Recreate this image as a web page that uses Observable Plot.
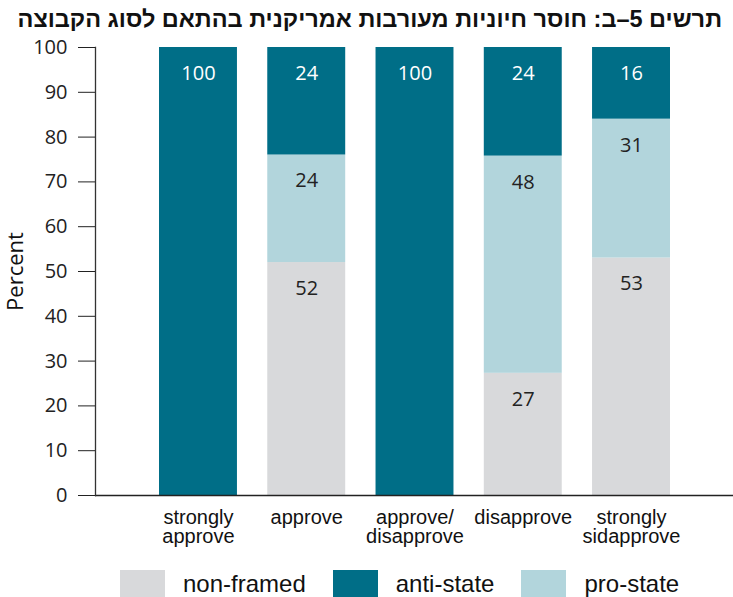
<!DOCTYPE html>
<html><head><meta charset="utf-8">
<script src="https://cdn.jsdelivr.net/npm/d3@7"></script>
<script src="https://cdn.jsdelivr.net/npm/@observablehq/plot@0.6"></script>
<style>
body{margin:0;background:#fff;}
#title{direction:rtl;font-family:"Liberation Sans",Arial,sans-serif;font-weight:bold;font-size:23.5px;height:28px;line-height:38px;padding-right:11px;white-space:nowrap;color:#111;width:722px;}
#chart svg{display:block;overflow:visible;}
.lg-swatches{margin-left:120px !important;margin-top:2px !important;margin-bottom:0 !important;font-family:"Liberation Sans",Arial,sans-serif !important;font-size:24px !important;color:#111;}
.lg-swatch{margin-right:27px !important;}
.lg-swatch > svg{margin-right:18px !important;}
</style></head><body>
<div id="title">תרשים 5–ב: חוסר חיוניות מעורבות אמריקנית בהתאם לסוג הקבוצה</div>
<div id="chart"></div>
<script>
const categories = ["strongly approve","approve","approve/disapprove","disapprove","strongly sidapprove"];
const categoryLabels = ["strongly\napprove","approve","approve/\ndisapprove","disapprove","strongly\nsidapprove"];
const groups = ["non-framed","anti-state","pro-state"];
const stackOrder = ["non-framed","pro-state","anti-state"];
const nonFramed = [null,52,null,27,53];
const proState  = [null,24,null,48,31];
const antiState = [100,24,100,24,16];
const colors = ["#d8d9db","#006e87","#b2d5dc"];
const yTicks = [0,10,20,30,40,50,60,70,80,90,100];
const yLabel = "Percent";

const series = {"non-framed": nonFramed, "pro-state": proState, "anti-state": antiState};
const data = [];
categories.forEach((c, i) => {
  stackOrder.forEach(g => {
    const v = series[g][i];
    if (v != null) data.push({category: c, group: g, value: v});
  });
});
const labelMap = Object.fromEntries(categories.map((c, i) => [c, categoryLabels[i]]));

const stackOpts = {x: "category", y: "value", z: "group", order: stackOrder, offset: "normalize"};

const chart = Plot.plot({
  width: 733,
  height: 537,
  marginTop: 19,
  marginBottom: 70,
  marginLeft: 95,
  marginRight: 0,
  x: {domain: categories, range: [159, 670], paddingInner: 0.28, paddingOuter: 0, round: false},
  y: {domain: [0, 100], percent: true},
  color: {domain: groups, range: colors},
  marks: [
    Plot.barY(data, Plot.stackY({...stackOpts, fill: "group"})),
    Plot.text(data, Plot.stackY2({...stackOpts, text: d => d.group === "anti-state" ? String(d.value) : null,
      fill: "white", dy: 26, fontFamily: "'Open Sans'", fontSize: 20})),
    Plot.text(data, Plot.stackY2({...stackOpts, text: d => d.group !== "anti-state" ? String(d.value) : null,
      fill: "#222", dy: 26, fontFamily: "'Open Sans'", fontSize: 20})),
    Plot.ruleY([0, 100], {stroke: "#222", strokeWidth: 1.6}),
    Plot.frame({anchor: "left", stroke: "#333", strokeWidth: 1.3}),
    Plot.axisY({ticks: yTicks, tickSize: 17, tickPadding: 11, label: null, fontFamily: "'Open Sans'", fontSize: 20, color: "#222", tickFormat: d => String(d)}),
    Plot.axisY({ticks: [], label: yLabel, labelAnchor: "center", labelArrow: "none", labelOffset: 88, fontFamily: "'Open Sans'", fontSize: 22, color: "#111"}),
    Plot.axisX({tickSize: 0, tickPadding: 15, label: null, tickFormat: d => labelMap[d], fontFamily: "'Liberation Sans'", fontSize: 20, lineHeight: 0.95, color: "#111"})
  ]
});
document.getElementById("chart").appendChild(chart);
const legend = Plot.legend({color: {domain: groups, range: colors}, swatchWidth: 45, swatchHeight: 27, className: "lg"});
document.getElementById("chart").appendChild(legend);
</script>
</body></html>
